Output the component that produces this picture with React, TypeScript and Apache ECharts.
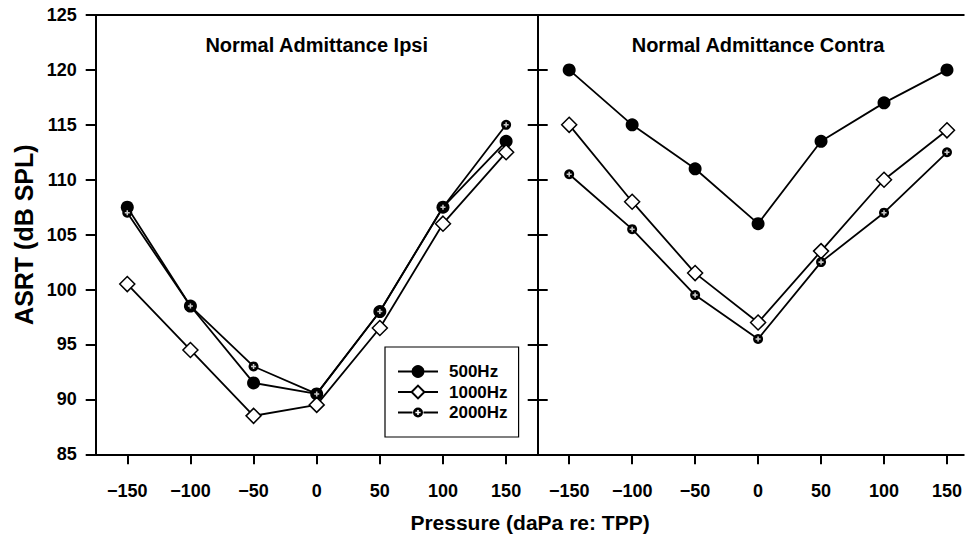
import React, { useEffect, useRef } from "react";
import * as echarts from "echarts";

// ---- data ----
const pressure = [-150, -100, -50, 0, 50, 100, 150];
const xTickValues = [-150, -100, -50, 0, 50, 100, 150];
const seriesNames = ["500Hz", "1000Hz", "2000Hz"];
const panelTitles = ["Normal Admittance Ipsi", "Normal Admittance Contra"];

const ipsi500 = [107.5, 98.5, 91.5, 90.5, 98, 107.5, 113.5];
const ipsi1000 = [100.5, 94.5, 88.5, 89.5, 96.5, 106, 112.5];
const ipsi2000 = [107, 98.5, 93, 90.5, 98, 107.5, 115];

const contra500 = [120, 115, 111, 106, 113.5, 117, 120];
const contra1000 = [115, 108, 101.5, 97, 103.5, 110, 114.5];
const contra2000 = [110.5, 105.5, 99.5, 95.5, 102.5, 107, 112.5];

const FONT = "'Liberation Sans', Arial, Helvetica, sans-serif";

const plusPath =
  "path://M4.2,2.4 L5.8,2.4 L5.8,4.2 L7.6,4.2 L7.6,5.8 L5.8,5.8 L5.8,7.6 L4.2,7.6 L4.2,5.8 L2.4,5.8 L2.4,4.2 L4.2,4.2 Z";
const legend2000Icon =
  "path://M0,5.1 L14.5,5.1 L14.5,6.9 L0,6.9 Z M25.5,5.1 L40,5.1 L40,6.9 L25.5,6.9 Z " +
  "M20,1 A5,5 0 1,1 20,11 A5,5 0 1,1 20,1 Z " +
  "M19.2,3.4 L19.2,5.2 L17.4,5.2 L17.4,6.8 L19.2,6.8 L19.2,8.6 L20.8,8.6 L20.8,6.8 L22.6,6.8 L22.6,5.2 L20.8,5.2 L20.8,3.4 Z";

const toPairs = (vals: number[]) => pressure.map((p, i) => [p, vals[i]]);

const fmtMinus = (v: number) => (v < 0 ? "\u2212" + Math.abs(v) : String(v));

export default function App() {
  const ref = useRef<HTMLDivElement>(null);

  useEffect(() => {
    if (!ref.current) return;
    const chart = echarts.init(ref.current, null, { renderer: "svg" });

    const axisLine = { show: true, onZero: false, lineStyle: { color: "#000", width: 2 } };
    const tickStyle = { color: "#000", width: 2 };

    const makeX = (gridIndex: number, max: number) => ({
      type: "value",
      gridIndex,
      position: "bottom",
      min: -175,
      max,
      splitLine: { show: false },
      axisLine,
      axisTick: { show: true, length: 10, lineStyle: tickStyle, customValues: xTickValues },
      axisLabel: {
        show: true,
        customValues: xTickValues,
        formatter: fmtMinus,
        margin: 28,
        color: "#000",
        fontSize: 18,
        fontWeight: "bold",
        fontFamily: FONT,
      },
    });

    const makeTopX = (gridIndex: number, max: number) => ({
      type: "value",
      gridIndex,
      position: "top",
      min: -175,
      max,
      splitLine: { show: false },
      axisLine,
      axisTick: { show: false },
      axisLabel: { show: false },
    });

    const yBase = {
      type: "value",
      min: 85,
      max: 125,
      interval: 5,
      splitLine: { show: false },
      axisLine,
      axisTick: { show: true, length: 10, lineStyle: tickStyle },
    };

    const panels = [
      [ipsi500, ipsi1000, ipsi2000],
      [contra500, contra1000, contra2000],
    ];
    const yIndexForPanel = [0, 2];

    const series: any[] = [];
    panels.forEach((sets, p) => {
      sets.forEach((vals, k) => {
        const base: any = {
          type: "line",
          name: seriesNames[k],
          xAxisIndex: p,
          yAxisIndex: yIndexForPanel[p],
          data: toPairs(vals),
          showAllSymbol: true,
          clip: false,
          lineStyle: { color: "#000", width: 1.8 },
          z: 2 + k,
        };
        if (k === 0) {
          base.symbol = "circle";
          base.symbolSize = 13;
          base.itemStyle = { color: "#000" };
        } else if (k === 1) {
          base.symbol = "diamond";
          base.symbolSize = 15;
          base.itemStyle = { color: "#fff", borderColor: "#000", borderWidth: 1.5 };
        } else {
          base.symbol = "circle";
          base.symbolSize = 10;
          base.itemStyle = { color: "#000" };
        }
        series.push(base);
        if (k === 2) {
          series.push({
            type: "scatter",
            name: "2000Hz-mark",
            xAxisIndex: p,
            yAxisIndex: yIndexForPanel[p],
            data: toPairs(vals),
            symbol: plusPath,
            symbolSize: 5,
            itemStyle: { color: "#fff" },
            silent: true,
            z: 6,
          });
        }
      });
    });

    // right panel is cut at the page edge, same scale as left panel
    const rightMax = 163.3;

    const option: any = {
      animation: false,
      backgroundColor: "#fff",
      grid: [
        { left: 95.7, top: 15, width: 442, height: 439.3 },
        { left: 537.7, top: 15, right: 0, height: 439.3 },
      ],
      xAxis: [makeX(0, 175), makeX(1, rightMax), makeTopX(0, 175), makeTopX(1, rightMax)],
      yAxis: [
        {
          ...yBase,
          gridIndex: 0,
          position: "left",
          name: "ASRT (dB SPL)",
          nameLocation: "middle",
          nameGap: 59,
          nameTextStyle: { color: "#000", fontSize: 25, fontWeight: "bold", fontFamily: FONT },
          axisLabel: {
            show: true,
            margin: 19,
            color: "#000",
            fontSize: 18,
            fontWeight: "bold",
            fontFamily: FONT,
          },
        },
        { ...yBase, gridIndex: 0, position: "right", axisLabel: { show: false } },
        { ...yBase, gridIndex: 1, position: "left", axisLabel: { show: false } },
      ],
      legend: {
        data: [
          { name: "500Hz" },
          { name: "1000Hz" },
          { name: "2000Hz", icon: legend2000Icon },
        ],
        orient: "vertical",
        left: 385,
        top: 347,
        padding: [16, 11, 16, 12],
        itemGap: 3.5,
        itemWidth: 40,
        itemHeight: 16,
        backgroundColor: "#fff",
        borderColor: "#000",
        borderWidth: 1.2,
        borderRadius: 0,
        selectedMode: false,
        textStyle: {
          color: "#000",
          fontSize: 17,
          fontWeight: "bold",
          fontFamily: FONT,
          padding: [0, 0, 0, 6],
        },
      },
      graphic: [
        {
          type: "text",
          x: 316.7,
          y: 45,
          style: {
            text: panelTitles[0],
            align: "center",
            verticalAlign: "middle",
            fill: "#000",
            fontSize: 20,
            fontWeight: "bold",
            fontFamily: FONT,
          },
        },
        {
          type: "text",
          x: 758,
          y: 45,
          style: {
            text: panelTitles[1],
            align: "center",
            verticalAlign: "middle",
            fill: "#000",
            fontSize: 20,
            fontWeight: "bold",
            fontFamily: FONT,
          },
        },
        {
          type: "text",
          x: 530,
          y: 522,
          style: {
            text: "Pressure (daPa re: TPP)",
            align: "center",
            verticalAlign: "middle",
            fill: "#000",
            fontSize: 21,
            fontWeight: "bold",
            fontFamily: FONT,
          },
        },
      ],
      series,
    };

    chart.setOption(option);
    return () => chart.dispose();
  }, []);

  return (
    <div
      ref={ref}
      style={{ position: "absolute", left: 0, top: 0, width: 965, height: 535 }}
    />
  );
}
